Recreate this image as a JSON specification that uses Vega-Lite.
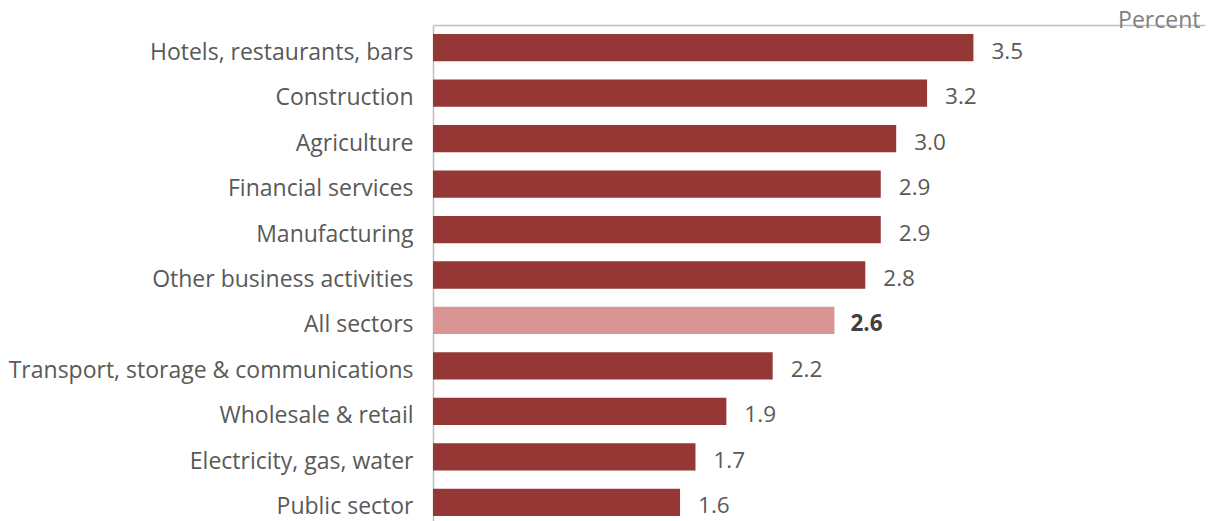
{
  "$schema": "https://vega.github.io/schema/vega-lite/v6.json",
  "autosize": {"type": "none"},
  "width": 772,
  "height": 500,
  "padding": {"left": 433, "top": 25, "right": 6, "bottom": 0},
  "background": "white",
  "config": {"view": {"stroke": null}, "font": "Open Sans"},
  "data": {
    "values": [
      {"sector": "Hotels, restaurants, bars", "value": 3.5},
      {"sector": "Construction", "value": 3.2},
      {"sector": "Agriculture", "value": 3.0},
      {"sector": "Financial services", "value": 2.9},
      {"sector": "Manufacturing", "value": 2.9},
      {"sector": "Other business activities", "value": 2.8},
      {"sector": "All sectors", "value": 2.6},
      {"sector": "Transport, storage & communications", "value": 2.2},
      {"sector": "Wholesale & retail", "value": 1.9},
      {"sector": "Electricity, gas, water", "value": 1.7},
      {"sector": "Public sector", "value": 1.6}
    ]
  },
  "encoding": {
    "y": {
      "field": "sector",
      "type": "nominal",
      "sort": null,
      "scale": {"paddingInner": 0.4, "paddingOuter": 0.2},
      "axis": {
        "title": null,
        "ticks": false,
        "labelFontSize": 23,
        "labelColor": "#595959",
        "labelPadding": 20,
        "labelOffset": 5,
        "labelLimit": 0,
        "labelFont": "Open Sans",
        "domainColor": "#BFBFBF",
        "domainWidth": 1.5
      }
    },
    "x": {
      "field": "value",
      "type": "quantitative",
      "scale": {"domain": [0, 5], "nice": false},
      "axis": {
        "orient": "top",
        "labels": false,
        "ticks": false,
        "grid": false,
        "domainColor": "#BFBFBF",
        "domainWidth": 1.5,
        "title": "Percent",
        "titleFont": "Open Sans",
        "titleFontSize": 23,
        "titleFontWeight": "normal",
        "titleColor": "#808080",
        "titleAlign": "right",
        "titleAnchor": null,
        "titleX": 767,
        "titleY": 2,
        "titleBaseline": "alphabetic"
      }
    }
  },
  "layer": [
    {
      "mark": {"type": "bar"},
      "encoding": {
        "color": {
          "condition": {"test": "datum.sector === 'All sectors'", "value": "#D99594"},
          "value": "#953735"
        }
      }
    },
    {
      "transform": [{"filter": "datum.sector !== 'All sectors'"}],
      "mark": {"type": "text", "align": "left", "baseline": "middle", "dx": 18, "dy": 4, "fontSize": 22.5, "color": "#595959", "font": "Open Sans"},
      "encoding": {"text": {"field": "value", "type": "quantitative", "format": ".1f"}}
    },
    {
      "transform": [{"filter": "datum.sector === 'All sectors'"}],
      "mark": {"type": "text", "align": "left", "baseline": "middle", "dx": 16, "dy": 4, "fontSize": 22.5, "fontWeight": "bold", "color": "#404040", "font": "Open Sans"},
      "encoding": {"text": {"field": "value", "type": "quantitative", "format": ".1f"}}
    }
  ]
}
